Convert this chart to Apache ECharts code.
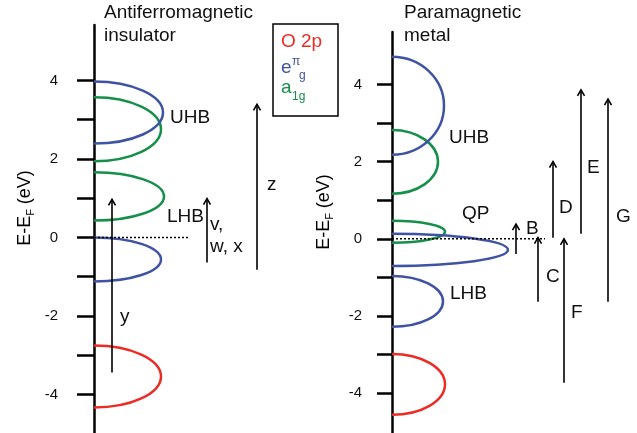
<!DOCTYPE html>
<html>
<head>
<meta charset="utf-8">
<script src="https://cdn.jsdelivr.net/npm/echarts@6/dist/echarts.min.js"></script>
<style>html,body{margin:0;padding:0;background:#fff;}#c{width:637px;height:433px;}</style>
</head>
<body>
<div id="c"></div>
<script>
// ---------- DATA ----------
const yTickValues = [-4, -3, -2, -1, 0, 1, 2, 3, 4];
const yTickLabels = [-4, -2, 0, 2, 4];
// bands: [top energy, bottom energy, relative weight]
const afiO2p  = [[-2.75, -4.33, 3.35]];
const afiEgPi = [[0.0, -1.12, 3.35], [3.97, 2.39, 3.45]];
const afiA1g  = [[1.66, 0.43, 3.5], [3.57, 1.94, 3.35]];
const pmO2p   = [[-2.98, -4.56, 2.65]];
const pmEgPi  = [[4.72, 2.18, 2.6], [0.13, -0.70, 5.8], [-0.96, -2.28, 2.55]];
const pmA1g   = [[2.82, 1.17, 2.3], [0.47, -0.10, 2.65]];
// transitions: [position, from energy, to energy]
const afiArrows = [[0.9, -3.44, 0.97], [5.65, -0.64, 0.99], [8.15, -0.82, 3.39]];
const pmArrows  = [[6.2, -0.39, 0.38], [7.3, -1.63, 0.03], [8.05, 0.03, 2.0],
                   [9.45, 0.13, 3.86], [8.6, -3.73, 0.0], [10.8, -1.63, 3.62]];
// Fermi level lines
const afiFermi = [[0, 0], [4.8, 0]];
const pmFermi  = [[0, 0], [7.65, 0]];
// labels: [x, energy, text]
const afiLabels = [[3.8, 3.06, 'UHB'], [3.65, 0.53, 'LHB'], [5.8, 0.33, 'v,'],
                   [5.8, -0.25, 'w, x'], [8.65, 1.35, 'z'], [1.3, -2.01, 'y']];
const pmLabels  = [[2.85, 2.62, 'UHB'], [3.5, 0.65, 'QP'], [2.9, -1.42, 'LHB'],
                   [6.7, 0.26, 'B'], [7.7, -0.98, 'C'], [8.35, 0.8, 'D'],
                   [9.75, 1.84, 'E'], [8.95, -1.92, 'F'], [11.2, 0.57, 'G']];

// ---------- STYLE ----------
const FONT = 'Liberation Sans, Arial, Helvetica, sans-serif';
const RED = '#ec2b25', BLUE = '#3f53a4', GREEN = '#168f4b';

function bandRender(color) {
  return function (params, api) {
    const top = api.coord([0, api.value(0)]);
    const bot = api.coord([0, api.value(1)]);
    const apex = api.coord([api.value(2), (api.value(0) + api.value(1)) / 2]);
    const x0 = top[0], yt = top[1], yb = bot[1], xa = apex[0], yc = apex[1];
    const k = 0.5523, w = xa - x0, ry = (yb - yt) / 2;
    const d = 'M' + x0 + ' ' + yt +
      ' C' + (x0 + k * w) + ' ' + yt + ' ' + xa + ' ' + (yc - k * ry) + ' ' + xa + ' ' + yc +
      ' C' + xa + ' ' + (yc + k * ry) + ' ' + (x0 + k * w) + ' ' + yb + ' ' + x0 + ' ' + yb;
    return { type: 'path', shape: { pathData: d },
      style: { fill: 'none', stroke: color, lineWidth: 2.5 } };
  };
}
function arrowRender(params, api) {
  const a = api.coord([api.value(0), api.value(1)]);
  const b = api.coord([api.value(0), api.value(2)]);
  return { type: 'group', children: [
    { type: 'line', shape: { x1: a[0], y1: a[1], x2: b[0], y2: b[1] },
      style: { stroke: '#000', lineWidth: 1.6 } },
    { type: 'polyline', shape: { points: [[b[0] - 3.5, b[1] + 6], [b[0], b[1]], [b[0] + 3.5, b[1] + 6]] },
      style: { fill: 'none', stroke: '#000', lineWidth: 1.6 } }
  ]};
}
function labelRender(params, api) {
  const p = api.coord([api.value(0), api.value(1)]);
  return { type: 'text', x: p[0], y: p[1],
    style: { text: String(api.value(2)), fontSize: 19, fontFamily: FONT, fill: '#111',
      align: 'left', verticalAlign: 'middle' } };
}

function yAxisFor(gridIndex, min, max, margin, tickLen) {
  return {
    gridIndex: gridIndex, type: 'value', min: min, max: max, position: 'left',
    axisLine: { show: true, onZero: false, lineStyle: { color: '#000', width: 2.5 } },
    axisTick: { show: true, inside: false, length: tickLen, customValues: yTickValues,
      lineStyle: { color: '#000', width: 2.5 } },
    axisLabel: { show: true, customValues: yTickLabels, margin: margin,
      fontSize: 15, fontFamily: FONT, color: '#111' },
    splitLine: { show: false }
  };
}
function xAxisFor(gridIndex, max) {
  return { gridIndex: gridIndex, type: 'value', min: 0, max: max, show: false,
    splitLine: { show: false } };
}
function bandSeries(gi, data, color) {
  return { type: 'custom', xAxisIndex: gi, yAxisIndex: gi, data: data,
    renderItem: bandRender(color), silent: true, clip: false };
}

const series = [
  // left panel
  bandSeries(0, afiO2p, RED), bandSeries(0, afiA1g, GREEN), bandSeries(0, afiEgPi, BLUE),
  { type: 'line', xAxisIndex: 0, yAxisIndex: 0, data: afiFermi, symbol: 'none',
    lineStyle: { color: '#000', width: 1.5, type: [2, 2] }, silent: true },
  { type: 'custom', xAxisIndex: 0, yAxisIndex: 0, data: afiArrows, renderItem: arrowRender, clip: false },
  { type: 'custom', xAxisIndex: 0, yAxisIndex: 0, data: afiLabels, renderItem: labelRender, clip: false },
  // right panel
  bandSeries(1, pmO2p, RED), bandSeries(1, pmA1g, GREEN), bandSeries(1, pmEgPi, BLUE),
  { type: 'line', xAxisIndex: 1, yAxisIndex: 1, data: pmFermi, symbol: 'none',
    lineStyle: { color: '#000', width: 1.5, type: [2, 2] }, silent: true },
  { type: 'custom', xAxisIndex: 1, yAxisIndex: 1, data: pmArrows, renderItem: arrowRender, clip: false },
  { type: 'custom', xAxisIndex: 1, yAxisIndex: 1, data: pmLabels, renderItem: labelRender, clip: false }
];

function txt(x, y, text, size, color, extra) {
  return Object.assign({ type: 'text', x: x, y: y, silent: true,
    style: { text: text, fontSize: size, fontFamily: FONT, fill: color || '#111',
      align: 'left', verticalAlign: 'middle' } }, extra || {});
}
const axisNameRich = {
  a: { fontSize: 18, fontFamily: FONT, color: '#111', lineHeight: 22 },
  s: { fontSize: 11, fontFamily: FONT, color: '#111', lineHeight: 22, verticalAlign: 'bottom', padding: [6, 0, 0, 0] }
};
function axisName(x, y) {
  return { type: 'text', x: x, y: y, rotation: Math.PI / 2, silent: true,
    style: { text: '{a|E-E}{s|F}{a| (eV)}', rich: axisNameRich, align: 'center', verticalAlign: 'middle' } };
}

const graphic = [
  txt(104, 13, 'Antiferromagnetic', 19),
  txt(104, 36, 'insulator', 19),
  txt(404, 13, 'Paramagnetic', 19),
  txt(404, 36, 'metal', 19),
  axisName(25, 208),
  axisName(324, 212),
  { type: 'rect', shape: { x: 273, y: 24, width: 65, height: 92 },
    style: { fill: 'none', stroke: '#000', lineWidth: 1.5 }, silent: true },
  txt(281, 42, 'O 2p', 19, RED),
  txt(281, 68, 'e', 19, BLUE),
  txt(292, 62, 'π', 12, BLUE),
  txt(299, 76, 'g', 12, BLUE),
  txt(281, 88, 'a', 19, GREEN),
  txt(292, 97, '1g', 12, GREEN)
];

const chart = echarts.init(document.getElementById('c'), null, { renderer: 'canvas' });
chart.setOption({
  animation: false,
  backgroundColor: '#fff',
  grid: [
    { left: 94, top: 25, width: 200, height: 408 },
    { left: 392, top: 32, width: 240, height: 401 }
  ],
  xAxis: [xAxisFor(0, 10), xAxisFor(1, 12)],
  yAxis: [yAxisFor(0, -4.98, 5.41, 36, 17), yAxisFor(1, -5.03, 5.36, 30, 15)],
  series: series,
  graphic: graphic
});
</script>
</body>
</html>
